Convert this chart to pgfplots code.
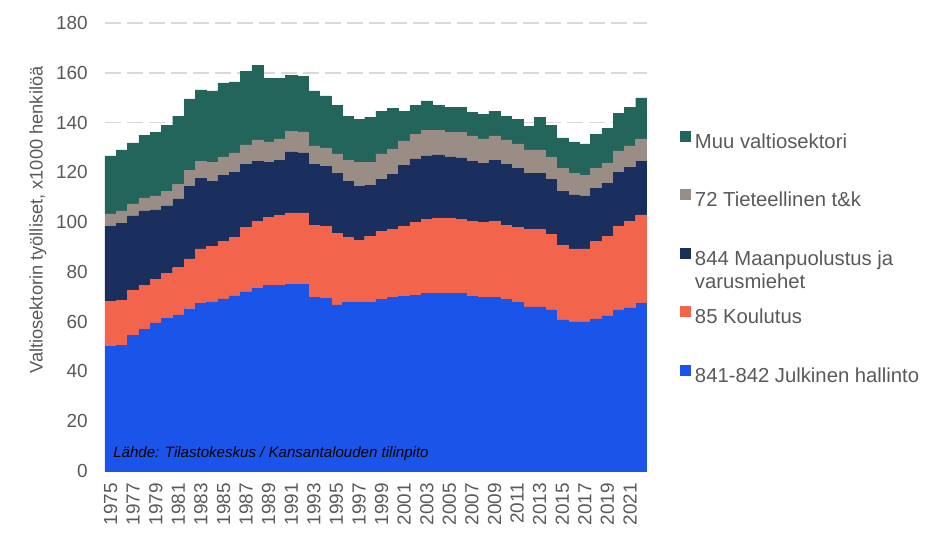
\documentclass[border=0pt]{standalone}
\usepackage{fontspec}
\setmainfont{Liberation Sans}
\usepackage{pgfplots}
\usepackage{pgfplotstable}
\pgfplotsset{compat=1.18}
\definecolor{cblue}{HTML}{1B54E8}
\definecolor{corange}{HTML}{F2644B}
\definecolor{cnavy}{HTML}{1B2F5E}
\definecolor{cgrey}{HTML}{9A8D86}
\definecolor{cgreen}{HTML}{23645B}
\definecolor{ctext}{HTML}{595959}
\definecolor{cgrid}{HTML}{D9D9D9}
\pgfplotstableread{
year b o n g t
1975 50.0 18.3 30.1 4.9 23.3
1976 50.6 18.1 30.8 5.0 24.5
1977 54.4 18.1 30.0 4.8 24.5
1978 56.8 17.7 30.0 5.2 25.3
1979 59.5 17.6 27.8 5.6 25.7
1980 61.2 18.1 27.2 6.0 26.5
1981 62.7 19.0 27.6 6.0 27.3
1982 65.2 20.0 29.3 6.4 28.6
1983 67.5 21.7 28.5 6.8 28.6
1984 68.0 22.4 26.1 7.6 28.6
1985 69.2 23.2 26.5 7.3 29.7
1986 70.4 23.6 26.1 7.7 28.5
1987 72.0 26.0 25.3 7.7 29.7
1988 73.3 26.9 24.3 8.5 30.1
1989 74.5 27.3 22.3 8.1 25.7
1990 74.6 28.0 22.3 8.5 24.5
1991 74.9 28.8 24.5 8.4 22.5
1992 74.9 28.8 24.1 8.5 22.4
1993 69.9 28.9 24.5 7.3 22.1
1994 69.5 28.9 24.1 7.3 20.9
1995 66.7 28.9 24.1 7.7 19.6
1996 67.9 26.1 22.5 8.4 17.7
1997 67.9 24.9 21.7 9.6 17.3
1998 67.9 26.5 20.5 9.2 18.1
1999 69.1 27.3 20.9 10.1 17.2
2000 69.9 27.3 22.1 10.1 16.4
2001 70.3 28.1 24.5 9.7 12.0
2002 70.7 29.3 25.4 10.0 11.6
2003 71.5 29.7 25.4 10.4 11.7
2004 71.5 30.1 25.4 10.0 10.0
2005 71.5 30.1 24.6 10.0 10.0
2006 71.5 29.7 24.6 10.4 10.0
2007 70.3 30.1 24.1 10.1 9.6
2008 69.9 30.1 23.7 9.7 10.0
2009 69.9 30.5 24.5 9.7 10.0
2010 69.1 29.7 24.5 9.7 9.6
2011 67.9 30.1 23.7 9.7 10.0
2012 65.9 31.3 22.5 9.3 9.6
2013 65.9 31.3 22.5 9.3 13.2
2014 64.7 30.5 22.1 8.9 12.8
2015 60.7 30.1 21.7 9.2 12.1
2016 59.9 29.3 21.7 8.8 12.5
2017 59.9 29.3 21.3 8.4 12.5
2018 61.1 31.3 21.3 8.0 13.7
2019 62.3 32.1 21.3 8.0 14.1
2020 64.7 33.7 21.7 8.5 15.2
2021 65.5 34.9 21.7 8.5 15.6
2022 67.5 35.4 21.6 8.9 16.5
}\datatable
\begin{document}
\begin{tikzpicture}
\path[use as bounding box] (0,0) rectangle (707.25pt,405pt);
\begin{axis}[
  at={(78.75pt,51.75pt)}, anchor=south west,
  scale only axis, width=406.5pt, height=336pt,
  ybar stacked, bar width=1, bar shift=0pt,
  xmin=1974.5, xmax=2022.5, ymin=0, ymax=180,
  ytick={0,20,...,180},
  xtick={1975,1977,...,2021},
  major tick length=0pt,
  axis line style={draw=none},
  ymajorgrids,
  grid style={cgrid, line width=1.1pt, dash pattern=on 12pt off 4.5pt},
  /pgf/number format/assume math mode=true,
  x tick label style={/pgf/number format/1000 sep={}, yshift=-9pt, rotate=90, anchor=east, inner sep=0pt, font=\fontsize{14.2pt}{17pt}\selectfont, text=ctext},
  y tick label style={anchor=east, inner sep=0pt, xshift=-12.75pt, font=\fontsize{14.2pt}{17pt}\selectfont, text=ctext},
  ylabel={Valtiosektorin työlliset, x1000 henkilöä},
  every axis y label/.style={at={(axis description cs:-0.1236,0.56)}, rotate=90, anchor=center, font=\fontsize{13.7pt}{16pt}\selectfont, text=ctext},
  legend image code/.code={\fill[#1] (0pt,1.5pt) rectangle (7.5pt,9pt);},
  reverse legend,
  legend cell align=left,
  legend style={draw=none, fill=none, inner sep=0pt, outer sep=0pt,
    at={(axis description cs:1.061,0.760)}, anchor=north west,
    font=\fontsize{15.2pt}{17.5pt}\selectfont, text=ctext,
    row sep=27.8pt,
    nodes={inner sep=0pt, text height=11pt, text depth=3pt},
    /tikz/every odd column/.append style={column sep=3.4pt}},
]
\addplot[fill=cblue, draw=cblue, line width=0.3pt] table[x=year, y=b] {\datatable};
\addlegendentry{841-842 Julkinen hallinto}
\addplot[fill=corange, draw=corange, line width=0.3pt] table[x=year, y=o] {\datatable};
\addlegendentry{85 Koulutus}
\addplot[fill=cnavy, draw=cnavy, line width=0.3pt] table[x=year, y=n] {\datatable};
\addlegendentry{\begin{tabular}[t]{@{}l@{}}844 Maanpuolustus ja\\varusmiehet\end{tabular}}
\addplot[fill=cgrey, draw=cgrey, line width=0.3pt] table[x=year, y=g] {\datatable};
\addlegendentry{72 Tieteellinen t\&k}
\addplot[fill=cgreen, draw=cgreen, line width=0.3pt] table[x=year, y=t] {\datatable};
\addlegendentry{Muu valtiosektori}
\draw[black, line width=1.7pt] (rel axis cs:0,0) -- (rel axis cs:1,0);
\end{axis}
\node[anchor=base west, inner sep=0pt, font=\fontsize{11.3pt}{13pt}\selectfont\itshape, text=black] at (84.75pt,62.25pt) {Lähde: Tilastokeskus / Kansantalouden tilinpito};
\end{tikzpicture}
\end{document}
